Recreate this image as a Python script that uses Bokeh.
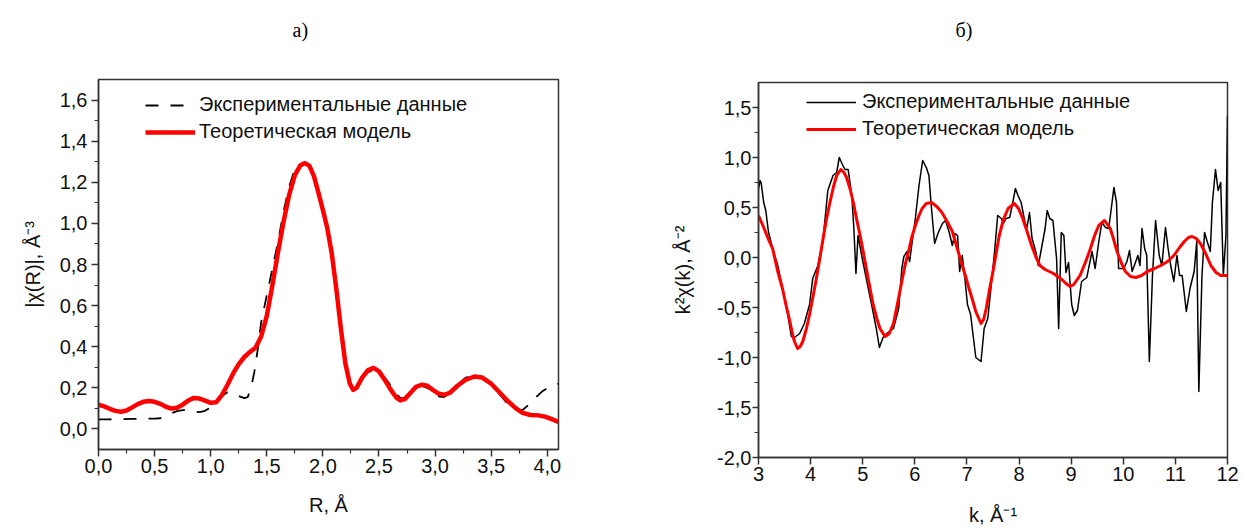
from bokeh.plotting import figure
from bokeh.layouts import row
from bokeh.models import (FixedTicker, CustomJSTickFormatter, Legend, LegendItem, Range1d, Title)
from bokeh.embed import file_html
from bokeh.resources import INLINE

# ---------------- data: panel a) |chi(R)| ----------------
R_exp = [0.00, 0.10, 0.20, 0.30, 0.40, 0.50, 0.55, 0.60, 0.65, 0.70, 0.75, 0.80, 0.85, 0.90,
         0.95, 1.00, 1.05, 1.10, 1.15, 1.20, 1.25, 1.30, 1.33, 1.36, 1.39, 1.42, 1.45, 1.50,
         1.55, 1.60, 1.65, 1.70, 1.75, 1.80, 1.84, 1.88, 1.92, 1.96, 2.00, 2.04, 2.08, 2.12,
         2.16, 2.20, 2.24, 2.27, 2.30, 2.35, 2.40, 2.45, 2.50, 2.55, 2.60, 2.65, 2.69, 2.73,
         2.78, 2.83, 2.88, 2.93, 2.98, 3.03, 3.08, 3.13, 3.20, 3.27, 3.35, 3.42, 3.50, 3.58,
         3.65, 3.72, 3.78, 3.84, 3.90, 3.96, 4.02, 4.10]
chiR_exp = [0.047, 0.047, 0.048, 0.049, 0.050, 0.050, 0.052, 0.062, 0.076, 0.087, 0.092, 0.090,
            0.084, 0.082, 0.088, 0.105, 0.130, 0.160, 0.178, 0.175, 0.160, 0.150, 0.155, 0.200,
            0.280, 0.390, 0.520, 0.650, 0.780, 0.910, 1.060, 1.180, 1.265, 1.290, 1.293, 1.278,
            1.228, 1.148, 1.065, 0.975, 0.850, 0.680, 0.490, 0.320, 0.230, 0.200, 0.205, 0.245,
            0.275, 0.285, 0.275, 0.250, 0.215, 0.175, 0.150, 0.150, 0.172, 0.200, 0.210, 0.200,
            0.175, 0.158, 0.155, 0.172, 0.215, 0.248, 0.262, 0.252, 0.215, 0.165, 0.120, 0.095,
            0.092, 0.120, 0.155, 0.185, 0.205, 0.220]

R_th = [0.00, 0.05, 0.10, 0.15, 0.20, 0.25, 0.30, 0.35, 0.40, 0.45, 0.50, 0.55, 0.60, 0.65,
        0.70, 0.75, 0.80, 0.85, 0.90, 0.95, 1.00, 1.05, 1.10, 1.15, 1.20, 1.25, 1.30, 1.35,
        1.40, 1.45, 1.50, 1.55, 1.60, 1.65, 1.70, 1.75, 1.80, 1.84, 1.88, 1.92, 1.96, 2.00,
        2.04, 2.08, 2.12, 2.16, 2.20, 2.24, 2.27, 2.30, 2.35, 2.40, 2.45, 2.50, 2.55, 2.60,
        2.65, 2.69, 2.73, 2.78, 2.83, 2.88, 2.93, 2.98, 3.03, 3.08, 3.13, 3.20, 3.27, 3.35,
        3.42, 3.50, 3.58, 3.65, 3.72, 3.78, 3.85, 3.92, 3.98, 4.04, 4.10]
chiR_th = [0.118, 0.110, 0.098, 0.088, 0.084, 0.090, 0.105, 0.121, 0.132, 0.136, 0.132, 0.122,
           0.108, 0.099, 0.103, 0.118, 0.138, 0.151, 0.148, 0.138, 0.127, 0.130, 0.165, 0.215,
           0.270, 0.315, 0.350, 0.375, 0.395, 0.450, 0.550, 0.700, 0.860, 1.010, 1.140, 1.235,
           1.283, 1.293, 1.280, 1.230, 1.150, 1.065, 0.975, 0.850, 0.680, 0.490, 0.320, 0.220,
           0.190, 0.200, 0.250, 0.285, 0.297, 0.280, 0.240, 0.195, 0.155, 0.139, 0.145, 0.175,
           0.205, 0.215, 0.210, 0.190, 0.172, 0.166, 0.175, 0.210, 0.238, 0.255, 0.250, 0.220,
           0.175, 0.135, 0.100, 0.078, 0.068, 0.066, 0.060, 0.048, 0.034]

# ---------------- data: panel б) k^2 chi(k) ----------------
k_exp = [3.00, 3.03, 3.05, 3.10, 3.14, 3.19, 3.27, 3.37, 3.46, 3.56, 3.63, 3.69, 3.79, 3.88,
         3.98, 4.04, 4.14, 4.24, 4.33, 4.43, 4.50, 4.55, 4.61, 4.66, 4.72, 4.79, 4.83, 4.87,
         4.91, 4.98, 5.08, 5.17, 5.26, 5.32, 5.39, 5.46, 5.59, 5.69, 5.75, 5.79, 5.85, 5.90,
         5.95, 6.01, 6.08, 6.15, 6.22, 6.27, 6.32, 6.38, 6.45, 6.53, 6.59, 6.66, 6.72, 6.77,
         6.82, 6.86, 6.91, 6.96, 7.01, 7.07, 7.17, 7.27, 7.33, 7.40, 7.46, 7.53, 7.59, 7.66,
         7.70, 7.75, 7.82, 7.88, 7.93, 7.98, 8.04, 8.11, 8.15, 8.20, 8.25, 8.32, 8.37, 8.43,
         8.50, 8.54, 8.59, 8.65, 8.72, 8.76, 8.81, 8.86, 8.90, 8.95, 9.01, 9.06, 9.12, 9.20,
         9.30, 9.40, 9.46, 9.53, 9.59, 9.66, 9.72, 9.77, 9.82, 9.87, 9.91, 10.01, 10.07, 10.12,
         10.17, 10.24, 10.28, 10.32, 10.36, 10.41, 10.45, 10.50, 10.56, 10.62, 10.69, 10.74,
         10.81, 10.86, 10.91, 10.97, 11.03, 11.08, 11.13, 11.21, 11.28, 11.36, 11.41, 11.45,
         11.51, 11.56, 11.61, 11.67, 11.71, 11.77, 11.82, 11.87, 11.92, 11.97, 12.00]
k2chi_exp = [0.69, 0.77, 0.75, 0.55, 0.47, 0.26, 0.09, -0.08, -0.31, -0.57, -0.79, -0.80, -0.76,
             -0.66, -0.47, -0.21, -0.08, 0.19, 0.67, 0.82, 0.85, 1.00, 0.93, 0.88, 0.88, 0.62,
             0.29, -0.16, 0.22, 0.02, -0.24, -0.47, -0.71, -0.90, -0.80, -0.76, -0.71, -0.51,
             -0.11, 0.01, 0.06, -0.04, 0.16, 0.39, 0.72, 0.97, 0.90, 0.82, 0.49, 0.14, 0.25,
             0.34, 0.37, 0.25, 0.12, 0.24, 0.22, -0.14, 0.02, -0.21, -0.47, -0.57, -1.00, -1.04,
             -0.71, -0.61, -0.31, 0.06, 0.42, 0.39, 0.34, 0.39, 0.40, 0.55, 0.69, 0.62, 0.55,
             0.36, 0.29, 0.45, 0.19, 0.06, -0.08, 0.09, 0.29, 0.47, 0.39, 0.37, -0.01, -0.71,
             0.25, 0.22, -0.15, -0.05, -0.47, -0.58, -0.53, -0.24, -0.20, 0.06, -0.11, 0.16,
             0.35, 0.30, 0.29, 0.49, 0.70, 0.55, -0.11, -0.11, -0.04, 0.07, -0.14, -0.04, 0.02,
             -0.08, 0.29, 0.09, 0.02, -1.04, -0.18, 0.37, 0.02, -0.08, 0.30, 0.09, -0.08, -0.24,
             0.02, -0.18, -0.18, -0.54, -0.31, -0.14, 0.16, -1.34, -0.18, 0.25, 0.16, 0.06,
             0.55, 0.88, 0.67, 0.75, -0.18, 0.22, 1.42]

k_th = [3.00, 3.10, 3.20, 3.27, 3.37, 3.46, 3.53, 3.59, 3.65, 3.69, 3.75, 3.80, 3.85, 3.92,
        3.98, 4.05, 4.11, 4.18, 4.24, 4.30, 4.37, 4.44, 4.50, 4.58, 4.64, 4.69, 4.76, 4.82,
        4.88, 4.95, 5.02, 5.08, 5.14, 5.20, 5.27, 5.33, 5.43, 5.51, 5.59, 5.66, 5.75, 5.82,
        5.88, 5.94, 6.01, 6.08, 6.14, 6.22, 6.32, 6.42, 6.52, 6.62, 6.72, 6.82, 6.91, 6.98,
        7.04, 7.11, 7.17, 7.27, 7.32, 7.37, 7.43, 7.50, 7.56, 7.62, 7.70, 7.79, 7.91, 7.99,
        8.07, 8.16, 8.24, 8.32, 8.40, 8.50, 8.66, 8.82, 8.90, 8.98, 9.05, 9.17, 9.28, 9.37,
        9.45, 9.53, 9.64, 9.75, 9.81, 9.88, 9.96, 10.04, 10.14, 10.24, 10.35, 10.46, 10.60,
        10.72, 10.85, 10.97, 11.08, 11.17, 11.25, 11.32, 11.40, 11.48, 11.58, 11.68, 11.78,
        11.87, 12.00]
k2chi_th = [0.42, 0.30, 0.17, 0.09, -0.14, -0.31, -0.48, -0.61, -0.76, -0.84, -0.91, -0.89,
            -0.84, -0.71, -0.57, -0.38, -0.21, 0.00, 0.19, 0.37, 0.55, 0.71, 0.82, 0.88, 0.85,
            0.80, 0.68, 0.55, 0.39, 0.22, 0.03, -0.14, -0.31, -0.47, -0.61, -0.71, -0.79, -0.76,
            -0.66, -0.48, -0.24, -0.06, 0.06, 0.20, 0.32, 0.42, 0.49, 0.54, 0.55, 0.51, 0.45,
            0.36, 0.26, 0.08, -0.08, -0.20, -0.31, -0.43, -0.54, -0.66, -0.62, -0.51, -0.33,
            -0.14, 0.04, 0.22, 0.38, 0.49, 0.54, 0.49, 0.39, 0.25, 0.12, 0.01, -0.08, -0.12,
            -0.16, -0.22, -0.26, -0.29, -0.27, -0.18, -0.04, 0.09, 0.22, 0.32, 0.37, 0.29, 0.19,
            0.06, -0.05, -0.14, -0.19, -0.20, -0.18, -0.14, -0.11, -0.08, -0.04, 0.02, 0.10,
            0.16, 0.20, 0.21, 0.19, 0.14, 0.04, -0.08, -0.15, -0.18, -0.18]

# ---------------- ticks / labels ----------------
a_xticks = [0.0, 0.5, 1.0, 1.5, 2.0, 2.5, 3.0, 3.5, 4.0]
a_xminor = [0.25, 0.75, 1.25, 1.75, 2.25, 2.75, 3.25, 3.75]
a_yticks = [0.0, 0.2, 0.4, 0.6, 0.8, 1.0, 1.2, 1.4, 1.6]
a_yminor = [0.1, 0.3, 0.5, 0.7, 0.9, 1.1, 1.3, 1.5]
b_xticks = [3, 4, 5, 6, 7, 8, 9, 10, 11, 12]
b_yticks = [-2.0, -1.5, -1.0, -0.5, 0.0, 0.5, 1.0, 1.5]
b_yminor = [-1.75, -1.25, -0.75, -0.25, 0.25, 0.75, 1.25]

legend_labels = ["Экспериментальные данные", "Теоретическая модель"]
panel_titles = ["а)", "б)"]

FONT = "Liberation Sans"
AX = "#333333"
comma1 = CustomJSTickFormatter(code="return tick.toFixed(1).replace('.', ',');")
int0 = CustomJSTickFormatter(code="return tick.toFixed(0);")


def style(p):
    if "frame_align" in p.properties():
        p.frame_align = False
    p.xgrid.visible = False
    p.ygrid.visible = False
    p.outline_line_color = AX
    p.outline_line_width = 1.5
    p.background_fill_color = "white"
    p.border_fill_color = "white"
    for ax in (p.xaxis[0], p.yaxis[0]):
        ax.axis_line_color = AX
        ax.axis_line_width = 1.5
        ax.major_tick_line_color = AX
        ax.major_tick_line_width = 1.5
        ax.minor_tick_line_color = AX
        ax.minor_tick_line_width = 1.2
        ax.major_tick_in = 0
        ax.major_tick_out = 7
        ax.minor_tick_in = 0
        ax.minor_tick_out = 4
        ax.major_label_text_font = FONT
        ax.major_label_text_font_size = "20px"
        ax.major_label_text_color = "#111111"
        ax.axis_label_text_font = FONT
        ax.axis_label_text_font_size = "20px"
        ax.axis_label_text_font_style = "normal"
        ax.axis_label_text_color = "#111111"


def add_title(p, text, offset, gap):
    # blank spacer title nearest the frame, then the real panel title above it
    p.add_layout(Title(text=" ", text_font_size="20px", standoff=gap), "above")
    p.add_layout(Title(text=text, align="left", offset=offset, standoff=0,
                       text_font="Liberation Serif", text_font_size="20px",
                       text_font_style="normal", text_color="#000000"), "above")


# ---------------- panel a) ----------------
p1 = figure(width=628, height=528, x_range=Range1d(0, 4.1), y_range=Range1d(-0.1, 1.7),
            output_backend="svg", toolbar_location=None,
            min_border_left=98, min_border_right=70, min_border_top=79, min_border_bottom=79)
style(p1)
p1.xaxis.ticker = FixedTicker(ticks=a_xticks, minor_ticks=a_xminor)
p1.yaxis.ticker = FixedTicker(ticks=a_yticks, minor_ticks=a_yminor)
p1.xaxis.formatter = comma1
p1.yaxis.formatter = comma1
p1.xaxis.axis_label = "R, Å"
p1.yaxis.axis_label = "|χ(R)|, Å⁻³"
p1.xaxis.major_label_standoff = 2
p1.yaxis.major_label_standoff = 4
p1.xaxis.axis_label_standoff = 18
p1.yaxis.axis_label_standoff = 13

ra1 = p1.line(R_exp, chiR_exp, line_color="black", line_width=1.8, line_dash="13 12")
ra2 = p1.line(R_th, chiR_th, line_color="#ff0000", line_width=4.5, line_join="round")
leg1 = Legend(items=[LegendItem(label=legend_labels[0], renderers=[ra1]),
                     LegendItem(label=legend_labels[1], renderers=[ra2])],
              location=(47, 306))
p1.add_layout(leg1)
add_title(p1, panel_titles[0], 194, 15)

# ---------------- panel б) ----------------
p2 = figure(width=614, height=528, x_range=Range1d(3, 12), y_range=Range1d(-2.0, 1.75),
            output_backend="svg", toolbar_location=None,
            min_border_left=130, min_border_right=15, min_border_top=82, min_border_bottom=70)
style(p2)
p2.xaxis.ticker = FixedTicker(ticks=b_xticks, minor_ticks=[])
p2.yaxis.ticker = FixedTicker(ticks=b_yticks, minor_ticks=b_yminor)
p2.xaxis.formatter = int0
p2.yaxis.formatter = comma1
p2.xaxis.axis_label = "k, Å⁻¹"
p2.yaxis.axis_label = "k²χ(k), Å⁻²"
p2.xaxis.major_label_standoff = 2
p2.yaxis.major_tick_out = 6
p2.yaxis.major_label_standoff = 1
p2.xaxis.axis_label_standoff = 20
p2.yaxis.axis_label_standoff = 20

rb1 = p2.line(k_exp, k2chi_exp, line_color="black", line_width=1.5, line_join="round")
rb2 = p2.line(k_th, k2chi_th, line_color="#ff0000", line_width=3, line_join="round")
leg2 = Legend(items=[LegendItem(label=legend_labels[0], renderers=[rb1]),
                     LegendItem(label=legend_labels[1], renderers=[rb2])],
              location=(48, 317))
p2.add_layout(leg2)
add_title(p2, panel_titles[1], 197, 18)

for leg, stand in ((leg1, 4), (leg2, 6)):
    leg.border_line_color = None
    leg.background_fill_alpha = 0
    leg.padding = 0
    leg.margin = 0
    leg.spacing = 4
    leg.glyph_width = 50
    leg.glyph_height = 22
    leg.label_height = 22
    leg.label_standoff = stand
    leg.label_text_font = FONT
    leg.label_text_font_size = "20px"
    leg.label_text_color = "#111111"

layout = row(p1, p2)
open("out.html", "w").write(file_html(layout, INLINE))
